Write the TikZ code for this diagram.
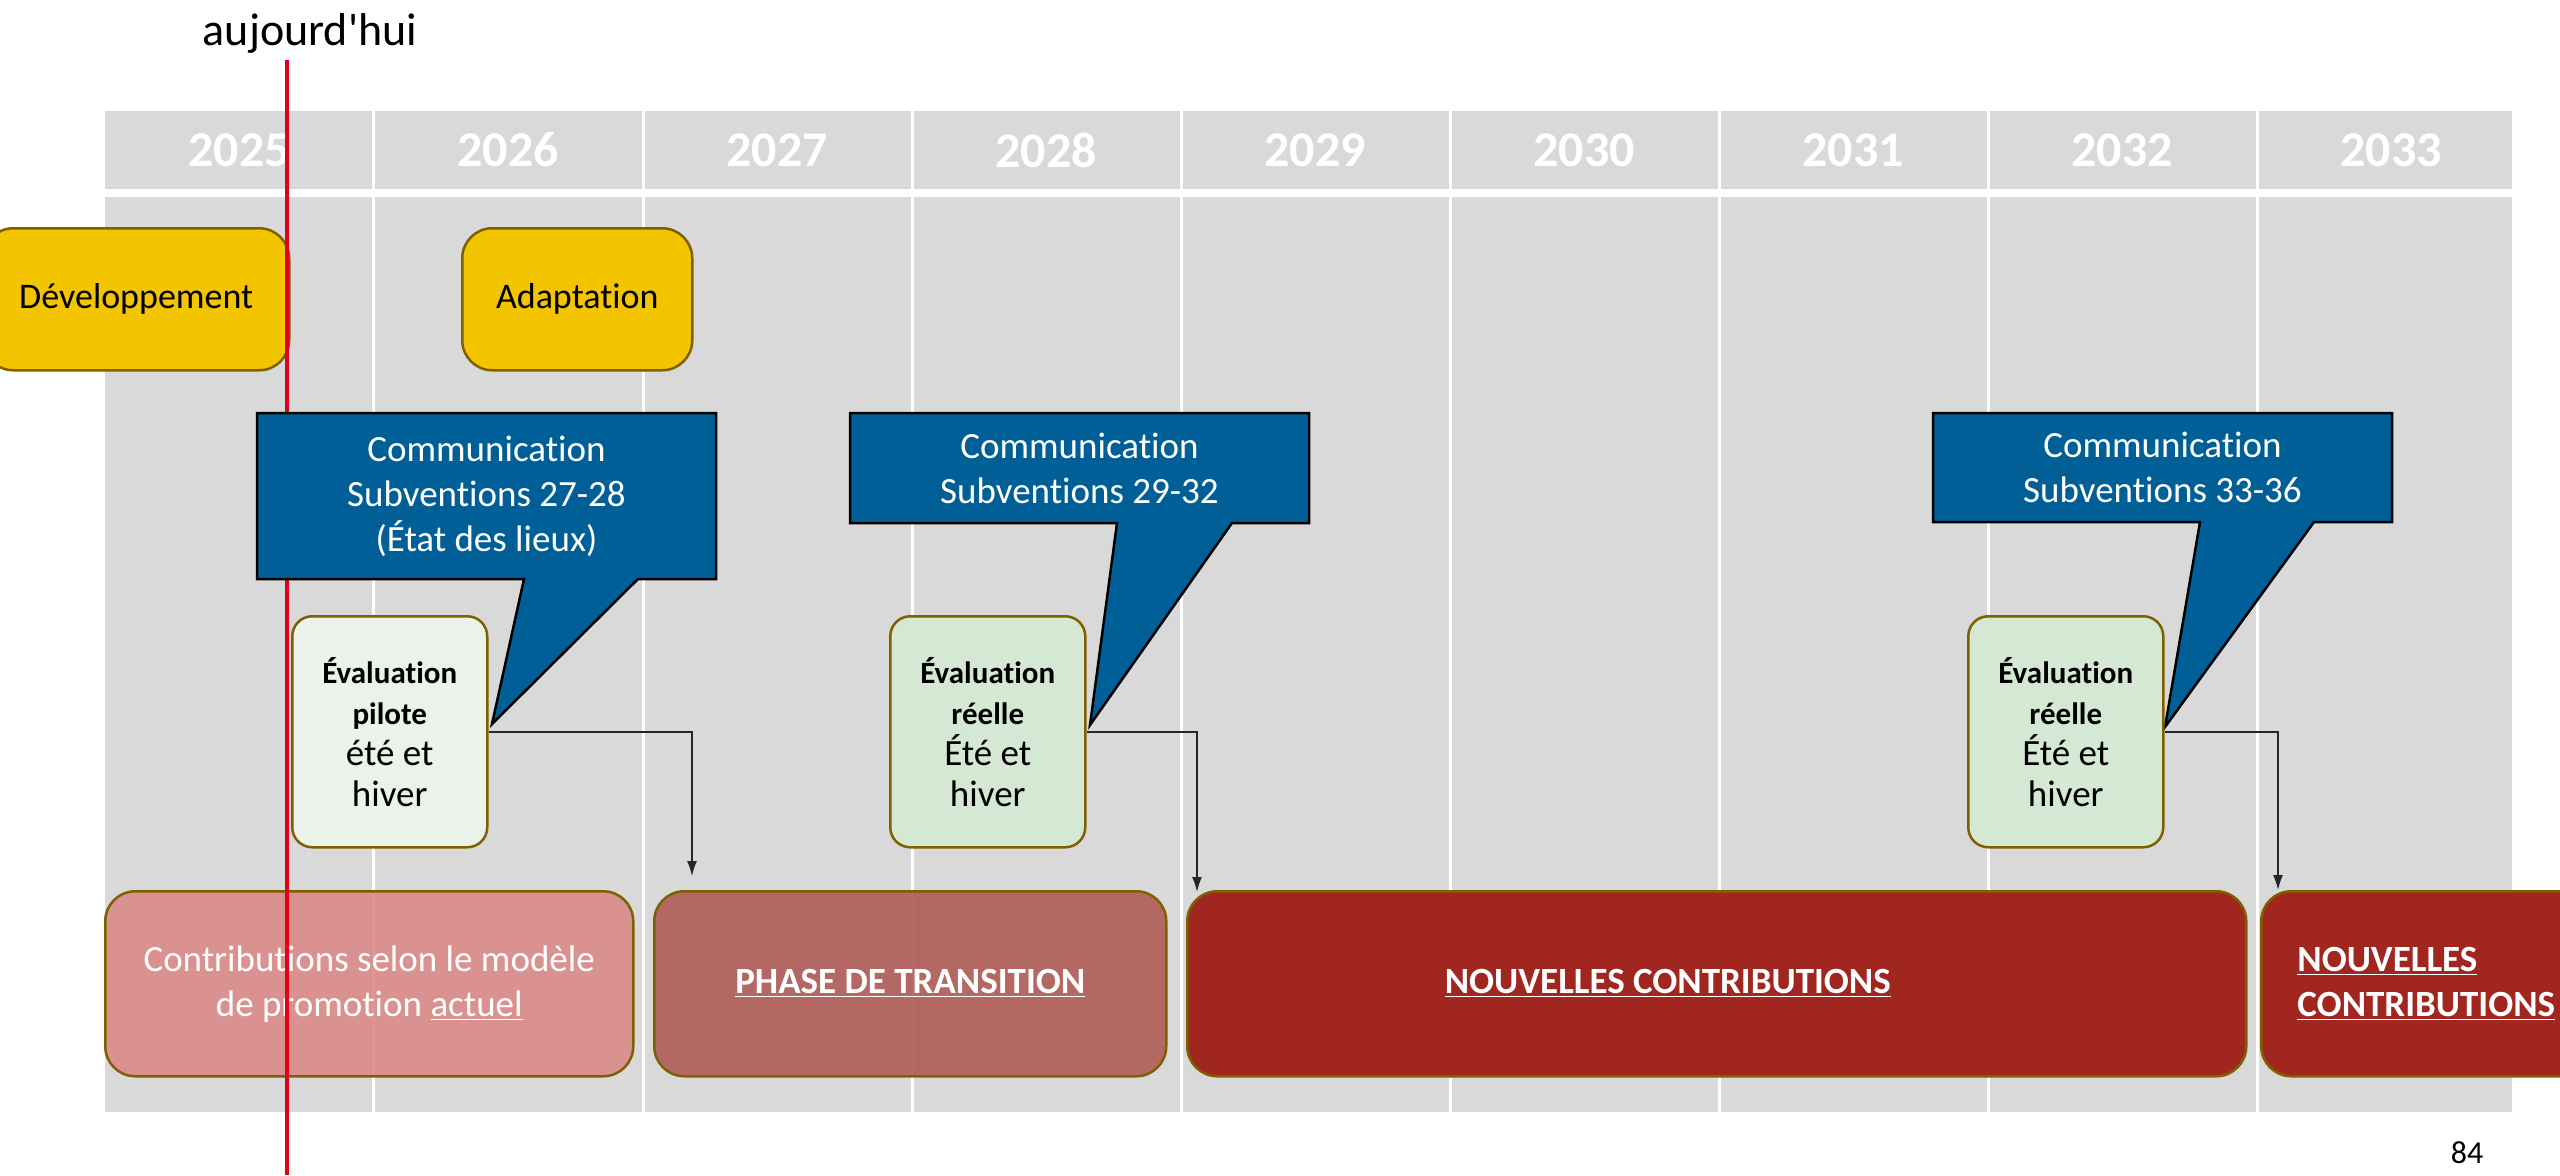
\documentclass[tikz,border=0pt]{standalone}
\usepackage{fontspec}
\setmainfont{Carlito}[Ligatures={TeXOff,NoCommon}]
\usetikzlibrary{calc,arrows.meta}

\definecolor{gridgray}{HTML}{D9D9D9}
\definecolor{todayred}{HTML}{E3001B}
\definecolor{phaseyellow}{HTML}{F2C500}
\definecolor{boxbrown}{HTML}{7F6000}
\definecolor{commblue}{HTML}{005F96}
\definecolor{evalpale}{HTML}{EAF2EA}
\definecolor{evalgreen}{HTML}{D5E8D4}
\definecolor{contribpink}{HTML}{DA8B88}
\definecolor{transred}{HTML}{B05C58}
\definecolor{newred}{HTML}{A0261F}

\newcommand{\evhead}[1]{{\bfseries\fontsize{15.5}{19}\selectfont #1}}

\tikzset{every picture/.style={line width=0.75pt}}
\tikzset{
  yearlbl/.style={text=white, inner sep=0.75pt, font=\bfseries\fontsize{25}{30}\selectfont},
  phasebox/.style={draw=boxbrown, line width=1.25pt, fill=phaseyellow, rounded corners=15pt,
    minimum height=71pt, inner sep=0pt, anchor=north west, font=\fontsize{18}{21.5}\selectfont},
  commbox/.style={draw=black, line width=1.25pt, fill=commblue},
  commtxt/.style={text=white, align=center, inner sep=0.75pt, font=\fontsize{18.5}{22.5}\selectfont},
  evalbox/.style={draw=boxbrown, line width=1.25pt, rounded corners=10pt, minimum width=97.5pt,
    minimum height=115.5pt, inner sep=0pt, anchor=north west, align=center,
    font=\fontsize{18.5}{20.5}\selectfont},
  contribbox/.style={draw=boxbrown, line width=1.25pt, rounded corners=15pt, minimum height=92.5pt,
    inner sep=0pt, anchor=north west, text=white, text opacity=1, align=center,
    font=\fontsize{18.5}{22.5}\selectfont},
  flow/.style={draw=black!85, line width=0.75pt, -{Latex[length=7.5pt,width=5pt]}},
  todayline/.style={draw=todayred, line width=2pt},
}

\begin{document}
\begin{tikzpicture}[x=0.5pt,y=0.5pt,yscale=-1,xscale=1]
\useasboundingbox (0,0) rectangle (2560,1175);
\clip (0,0) rectangle (2560,1175);

% Grid
\fill[gridgray] (105,111) rectangle (2512,189);
\fill[gridgray] (105,197) rectangle (2512,1112);
\foreach \gx in {373,643,912,1181,1450,1719,1988,2257}
  \draw[white, line width=1.5pt] (\gx,111) -- (\gx,1112);

% Years
\foreach \yr [count=\i from 0] in {2025,...,2033}
  \node[yearlbl] (yr\yr) at ({239+269*\i},150) {\yr};

% Contribution phases
\node[contribbox, fill=contribpink, fill opacity=0.9, minimum width=264pt] (contrib) at (104,890)
  {Contributions selon le modèle\\de promotion \underline{actuel}};
\node[contribbox, fill=transred, fill opacity=0.9, minimum width=256pt, font=\bfseries\fontsize{18.5}{22.5}\selectfont] (transit) at (653,890)
  {\underline{PHASE DE TRANSITION}};
\node[contribbox, fill=newred, minimum width=529.5pt] (nouvA) at (1186,890) {};
\node[text=white, inner sep=0.75pt, font=\bfseries\fontsize{18.5}{22.5}\selectfont] (nouvAtxt) at ($(nouvA.center)+(-49,0)$)
  {\underline{NOUVELLES CONTRIBUTIONS}};
\node[contribbox, fill=newred, minimum width=165pt, align=left, font=\bfseries\fontsize{18.5}{22.5}\selectfont] (nouvB) at (2260,890)
  {\underline{NOUVELLES}\\\underline{CONTRIBUTIONS}};

% Development
\node[phasebox, minimum width=153pt] (dev) at (-18,227) {Développement};
\node[phasebox, minimum width=115pt] (adapt) at (461,227) {Adaptation};

% Today
\node[inner sep=0.75pt, font=\fontsize{23}{28}\selectfont] (today) at (310,33) {aujourd'hui};
\draw[todayline] (287,60) -- (287,1175);

% Callouts
\coordinate (tipA) at (492,724);
\draw[commbox] (257,413) -- (716,413) -- (716,579) -- (638,579) -- (tipA) -- (524,579) -- (257,579) -- cycle;
\node[commtxt] (comA) at (486.5,496) {Communication\\Subventions 27-28\\(État des lieux)};

\coordinate (tipB) at (1090,725);
\draw[commbox] (850,413) -- (1309,413) -- (1309,523) -- (1232,523) -- (tipB) -- (1117,523) -- (850,523) -- cycle;
\node[commtxt] (comB) at (1079.5,468) {Communication\\Subventions 29-32};

\coordinate (tipC) at (2165,727);
\draw[commbox] (1933,413) -- (2392,413) -- (2392,522) -- (2314,522) -- (tipC) -- (2200,522) -- (1933,522) -- cycle;
\node[commtxt] (comC) at (2162.5,467.5) {Communication\\Subventions 33-36};

% Evaluations
\node[evalbox, fill=evalpale] (evA) at (291,615) {\evhead{Évaluation}\\\evhead{pilote}\\été et\\hiver};
\node[evalbox, fill=evalgreen] (evB) at (889,615) {\evhead{Évaluation}\\\evhead{réelle}\\Été et\\hiver};
\node[evalbox, fill=evalgreen] (evC) at (1967,615) {\evhead{Évaluation}\\\evhead{réelle}\\Été et\\hiver};

% Links
\draw[flow] (evA.east) -| ($(transit.north west)+(39,-14)$);
\draw[flow] (evB.east) -| ($(nouvA.north west)+(11,2)$);
\draw[flow] (evC.east) -| ($(nouvB.north west)+(18,0)$);

% Page number
\node[inner sep=0.75pt, font=\fontsize{16}{19}\selectfont] (pageno) at (2467,1153) {84};

\end{tikzpicture}
\end{document}
